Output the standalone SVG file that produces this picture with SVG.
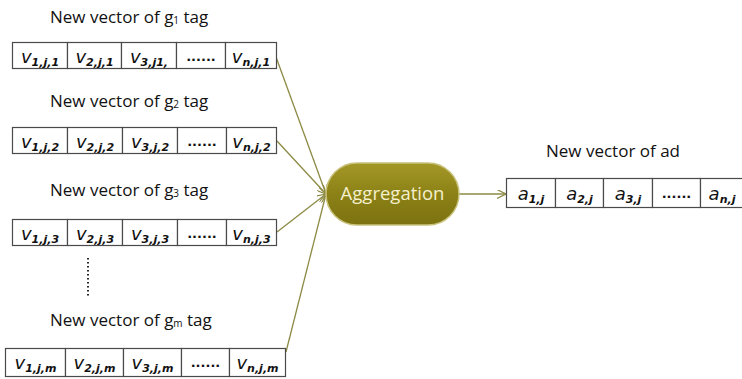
<svg xmlns="http://www.w3.org/2000/svg" width="742" height="379" viewBox="0 0 742 379">
<style>
.cell{fill:#fff;stroke:#4a4a4a;stroke-width:1.2}
.ttl{font-family:"Open Sans","Liberation Sans",sans-serif;font-size:17px;fill:#111}
.ttl .s{font-size:10px}
.v{font-family:"DejaVu Sans",Verdana,sans-serif;font-style:italic;font-size:18px;fill:#111;text-anchor:middle}
.v .b{font-size:11px;font-weight:bold}
.dots{font-family:"DejaVu Sans",sans-serif;font-size:13px;font-weight:bold;fill:#111;text-anchor:middle}
.con{stroke:#8c8a45;stroke-width:1.3;fill:none}
.agg{font-family:"Open Sans","Liberation Sans",sans-serif;font-size:18.5px;fill:#f4f0cc;text-anchor:middle}
</style>
<defs>
<marker id="arr" viewBox="0 0 10 10" refX="10" refY="5" markerWidth="9" markerHeight="9" orient="auto" markerUnits="userSpaceOnUse">
<path d="M0,0 L10,5 L0,10" fill="none" stroke="#8c8a45" stroke-width="1.3"/>
</marker>
<linearGradient id="gAgg" x1="0" y1="0" x2="0" y2="1">
<stop offset="0" stop-color="#a39826"/>
<stop offset="0.5" stop-color="#8c8116"/>
<stop offset="1" stop-color="#7c7210"/>
</linearGradient>
</defs>

<g id="connectors">
<line class="con" x1="276" y1="57" x2="326" y2="194" marker-end="url(#arr)"/>
<line class="con" x1="277" y1="141" x2="326" y2="194" marker-end="url(#arr)"/>
<line class="con" x1="277" y1="232" x2="326" y2="194" marker-end="url(#arr)"/>
<line class="con" x1="286" y1="352" x2="326" y2="194" marker-end="url(#arr)"/>
<line class="con" x1="459" y1="194" x2="506" y2="194" marker-end="url(#arr)"/>
</g>

<g id="vec1">
<text class="ttl" x="50" y="23">New vector of g<tspan class="s" dy="1">1</tspan><tspan dy="-1"> tag</tspan></text>
<rect class="cell" x="12.5" y="42.5" width="55" height="26"/>
<rect class="cell" x="67.5" y="42.5" width="54" height="26"/>
<rect class="cell" x="121.5" y="42.5" width="55" height="26"/>
<rect class="cell" x="176.5" y="42.5" width="49" height="26"/>
<rect class="cell" x="225.5" y="42.5" width="51" height="26"/>
<text class="v" x="40" y="63">v<tspan class="b" dy="3">1,j,1</tspan></text>
<text class="v" x="94.5" y="63">v<tspan class="b" dy="3">2,j,1</tspan></text>
<text class="v" x="149" y="63">v<tspan class="b" dy="3">3,j1,</tspan></text>
<text class="dots" x="201" y="61">......</text>
<text class="v" x="251" y="63">v<tspan class="b" dy="3">n,j,1</tspan></text>
</g>

<g id="vec2">
<text class="ttl" x="50" y="107">New vector of g<tspan class="s" dy="1">2</tspan><tspan dy="-1"> tag</tspan></text>
<rect class="cell" x="12.5" y="127.5" width="55" height="26"/>
<rect class="cell" x="67.5" y="127.5" width="55" height="26"/>
<rect class="cell" x="122.5" y="127.5" width="55" height="26"/>
<rect class="cell" x="177.5" y="127.5" width="49" height="26"/>
<rect class="cell" x="226.5" y="127.5" width="50" height="26"/>
<text class="v" x="40" y="148">v<tspan class="b" dy="3">1,j,2</tspan></text>
<text class="v" x="95" y="148">v<tspan class="b" dy="3">2,j,2</tspan></text>
<text class="v" x="150" y="148">v<tspan class="b" dy="3">3,j,2</tspan></text>
<text class="dots" x="202" y="146">......</text>
<text class="v" x="251.5" y="148">v<tspan class="b" dy="3">n,j,2</tspan></text>
</g>

<g id="vec3">
<text class="ttl" x="50" y="196">New vector of g<tspan class="s" dy="1">3</tspan><tspan dy="-1"> tag</tspan></text>
<rect class="cell" x="12.5" y="219.5" width="55" height="26"/>
<rect class="cell" x="67.5" y="219.5" width="55" height="26"/>
<rect class="cell" x="122.5" y="219.5" width="55" height="26"/>
<rect class="cell" x="177.5" y="219.5" width="49" height="26"/>
<rect class="cell" x="226.5" y="219.5" width="50" height="26"/>
<text class="v" x="40" y="240">v<tspan class="b" dy="3">1,j,3</tspan></text>
<text class="v" x="95" y="240">v<tspan class="b" dy="3">2,j,3</tspan></text>
<text class="v" x="150" y="240">v<tspan class="b" dy="3">3,j,3</tspan></text>
<text class="dots" x="202" y="238">......</text>
<text class="v" x="251.5" y="240">v<tspan class="b" dy="3">n,j,3</tspan></text>
</g>

<g id="vdots">
<line x1="88" y1="258" x2="88" y2="297" stroke="#222" stroke-width="2" stroke-dasharray="1.5 2.5"/>
</g>

<g id="vecm">
<text class="ttl" x="50" y="326">New vector of g<tspan class="s" dy="1">m</tspan><tspan dy="-1"> tag</tspan></text>
<rect class="cell" x="5.5" y="348.5" width="60" height="28"/>
<rect class="cell" x="65.5" y="348.5" width="58" height="28"/>
<rect class="cell" x="123.5" y="348.5" width="58" height="28"/>
<rect class="cell" x="181.5" y="348.5" width="48" height="28"/>
<rect class="cell" x="229.5" y="348.5" width="56" height="28"/>
<text class="v" x="35.5" y="369">v<tspan class="b" dy="3">1,j,m</tspan></text>
<text class="v" x="94.5" y="369">v<tspan class="b" dy="3">2,j,m</tspan></text>
<text class="v" x="152.5" y="369">v<tspan class="b" dy="3">3,j,m</tspan></text>
<text class="dots" x="205.5" y="367">......</text>
<text class="v" x="257.5" y="369">v<tspan class="b" dy="3">n,j,m</tspan></text>
</g>

<g id="aggregation">
<rect x="326" y="163" width="133" height="62" rx="31" ry="31" fill="url(#gAgg)" stroke="#c9c27c" stroke-width="1.5"/>
<text class="agg" x="392.5" y="200">Aggregation</text>
</g>

<g id="advec">
<text class="ttl" x="546" y="157">New vector of ad</text>
<rect class="cell" x="506.5" y="178.5" width="49" height="29"/>
<rect class="cell" x="555.5" y="178.5" width="48" height="29"/>
<rect class="cell" x="603.5" y="178.5" width="49" height="29"/>
<rect class="cell" x="652.5" y="178.5" width="48" height="29"/>
<rect class="cell" x="700.5" y="178.5" width="50" height="29"/>
<text class="v" x="531" y="200">a<tspan class="b" dy="3">1,j</tspan></text>
<text class="v" x="579.5" y="200">a<tspan class="b" dy="3">2,j</tspan></text>
<text class="v" x="628" y="200">a<tspan class="b" dy="3">3,j</tspan></text>
<text class="dots" x="676.5" y="198">......</text>
<text class="v" x="722" y="200">a<tspan class="b" dy="3">n,j</tspan></text>
</g>
</svg>
